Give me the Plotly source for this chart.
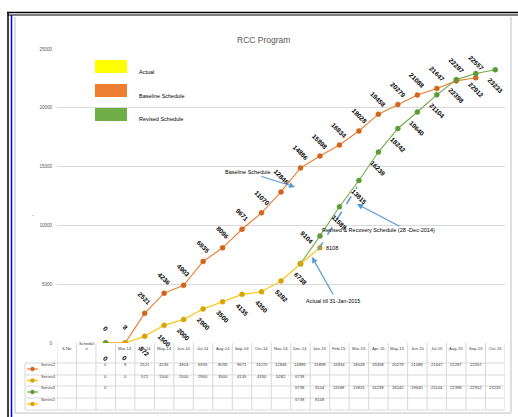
import plotly.graph_objects as go

categories = ["S.No", "Schedule", "", "Mar-14", "Apr-14", "May-14", "Jun-14", "Jul-14",
              "Aug-14", "Sep-14", "Oct-14", "Nov-14", "Dec-14", "Jan-15", "Feb-15",
              "Mar-15", "Apr-15", "May-15", "Jun-15", "Jul-15", "Aug-15", "Sep-15", "Oct-15"]
header_labels = ["S.No", "Schedul<br>e", ""] + categories[3:]

series_names = ["Series2", "Series4", "Series5", "Series1"]
series2 = [None, None, 0, 8, 2521, 4236, 4903, 6935, 8096, 9671, 11070, 12846, 14886,
           15898, 16834, 18028, 19458, 20279, 21088, 21647, 22287, 22557, None]
series4 = [None, None, 0, 0, 572, 1500, 2000, 2900, 3500, 4135, 4350, 5282, 6738] + [None] * 10
series5 = [None, None, 0] + [None] * 9 + [6738, 9104, 11588, 13815, 16239, 18242, 19640,
                                         21104, 22398, 22912, 23233]
series1 = [None] * 12 + [6738, 8108] + [None] * 9

legend_labels = ["Actual", "Baseline Schedule", "Revised Schedule"]
note_texts = ["Baseline Schedule", "Revised & Recovery Schedule (28 -Dec-2014)",
              "Actual till 31-Jan-2015"]
title_text = "RCC Program"

y_ticks = [0, 5000, 10000, 15000, 20000, 25000]

# ---- styling / layout helpers (pixel -> paper) ----
W, H = 518, 417
L, R, T, B = 57, 13, 49, 74
PW, PH = W - L - R, H - T - B


def pxx(x):
    return (x - L) / PW


def pxy(y):
    return (T + PH - y) / PH


FONT = "Liberation Sans Narrow, Liberation Sans, Arial"
ORANGE, ORANGE_M = "#ED7D31", "#D0661E"
GOLD, GOLD_M = "#FFC000", "#D9A400"
GREEN, GREEN_M = "#70AD47", "#5B9A36"
BLUE = "#5B9BD5"
GRID = "#D9D9D9"

xs = list(range(len(categories)))
fig = go.Figure()

trace_specs = [
    (series2, ORANGE, ORANGE_M),
    (series4, GOLD, GOLD_M),
    (series5, GREEN, GREEN_M),
    (series1, GOLD, GOLD_M),
]
for (vals, lc, mc), name in zip(trace_specs, series_names):
    fig.add_trace(go.Scatter(
        x=xs, y=vals, name=name, mode="lines+markers",
        line=dict(color=lc, width=1.1),
        marker=dict(color=mc, size=5, line=dict(color=mc, width=0.5)),
        connectgaps=False, showlegend=False, hoverinfo="skip"))

annotations = []
shapes = []

lab_font = dict(family=FONT, size=6.5, color="black")
# data labels
for i, v in enumerate(series2):
    if v is not None:
        annotations.append(dict(x=i, y=v, xref="x", yref="y", text=f"<b>{v}</b>",
                                showarrow=False, textangle=45, yshift=15, font=lab_font))
for i, v in enumerate(series4):
    if v is not None:
        annotations.append(dict(x=i, y=v, xref="x", yref="y", text=f"<b>{v}</b>",
                                showarrow=False, textangle=45, yshift=-15, font=lab_font))
for i, v in enumerate(series5):
    if v is not None and i > 12:
        if i == 13:
            annotations.append(dict(x=i, y=v, xref="x", yref="y", text=f"<b>{v}</b>",
                                    showarrow=False, textangle=45, xshift=-13, yshift=-2,
                                    font=lab_font))
        else:
            annotations.append(dict(x=i, y=v, xref="x", yref="y", text=f"<b>{v}</b>",
                                    showarrow=False, textangle=45, yshift=-16, font=lab_font))
for i, v in enumerate(series1):
    if v is not None and i > 12:
        annotations.append(dict(x=i, y=v, xref="x", yref="y", text=str(v),
                                showarrow=False, xanchor="left", xshift=4,
                                font=dict(family=FONT, size=5.5, color="black")))

# ---- data table under the chart ----
row_lines = [363, 375, 386, 398, 410]
row_centers = [369, 380.5, 392, 404]
tab_font = dict(family=FONT, size=4.2, color="#404040")
for k in range(len(categories) + 1):
    shapes.append(dict(type="line", xref="x", yref="paper", x0=k - 0.5, x1=k - 0.5,
                       y0=pxy(343), y1=pxy(410), line=dict(color=GRID, width=1)))
shapes.append(dict(type="line", xref="paper", yref="paper", x0=pxx(25), x1=pxx(25),
                   y0=pxy(363), y1=pxy(410), line=dict(color=GRID, width=1)))
for yl in row_lines:
    shapes.append(dict(type="line", xref="paper", yref="paper", x0=pxx(25), x1=1,
                       y0=pxy(yl), y1=pxy(yl), line=dict(color=GRID, width=1)))
for i, lab in enumerate(header_labels):
    if lab:
        annotations.append(dict(x=i, y=pxy(353), xref="x", yref="paper", text=lab,
                                showarrow=False, font=tab_font))
for r, vals in enumerate([series2, series4, series5, series1]):
    for i, v in enumerate(vals):
        if v is not None:
            annotations.append(dict(x=i, y=pxy(row_centers[r]), xref="x", yref="paper",
                                    text=str(v), showarrow=False, font=tab_font))
key_colors = [(ORANGE, ORANGE_M), (GOLD, GOLD_M), (GREEN, GREEN_M), (GOLD, GOLD_M)]
for r, name in enumerate(series_names):
    yc = pxy(row_centers[r])
    lc, mc = key_colors[r]
    shapes.append(dict(type="line", xref="paper", yref="paper", x0=pxx(27), x1=pxx(38),
                       y0=yc, y1=yc, line=dict(color=lc, width=1.2)))
    shapes.append(dict(type="circle", xref="paper", yref="paper",
                       x0=pxx(30.5), x1=pxx(34.5), y0=yc - 2 / PH, y1=yc + 2 / PH,
                       fillcolor=mc, line=dict(color=mc, width=0.5)))
    annotations.append(dict(x=pxx(39), y=yc, xref="paper", yref="paper", text=name,
                            xanchor="left", showarrow=False, font=tab_font))

# ---- custom legend ----
leg_colors = ["#FFFF00", "#ED7D31", "#70AD47"]
leg_y = [(60, 73), (84, 97), (108, 121)]
for (y0, y1), c, lab in zip(leg_y, leg_colors, legend_labels):
    shapes.append(dict(type="rect", xref="paper", yref="paper", x0=pxx(95), x1=pxx(127),
                       y0=pxy(y1), y1=pxy(y0), fillcolor=c, line=dict(width=0)))
    annotations.append(dict(x=pxx(137), y=pxy((y0 + y1) / 2), xref="paper", yref="paper",
                            text=lab, xanchor="left", showarrow=False,
                            font=dict(family=FONT, size=5.5, color="black")))

# ---- title ----
annotations.append(dict(x=pxx(263), y=pxy(33), xref="paper", yref="paper", text=title_text,
                        showarrow=False, font=dict(family=FONT, size=8.5, color="#595959")))
annotations.append(dict(x=pxx(30), y=pxy(215), xref="paper", yref="paper", text="-",
                        showarrow=False, font=dict(family=FONT, size=5, color="#595959")))

# ---- notes and arrows ----
note_font = dict(family=FONT, size=5.5, color="black")
annotations.append(dict(x=pxx(248), y=pxy(172), xref="paper", yref="paper",
                        text=note_texts[0], showarrow=False, font=note_font))
annotations.append(dict(x=pxx(437), y=pxy(230), xref="paper", yref="paper",
                        text=note_texts[1], showarrow=False, font=note_font))
annotations.append(dict(x=pxx(333), y=pxy(306), xref="paper", yref="paper",
                        text=note_texts[2], showarrow=False, font=note_font))
arrows = [((260, 176), (295, 187)), ((401, 227), (357, 204)), ((334, 296), (312, 257))]
for (tx, ty), (hx, hy) in arrows:
    annotations.append(dict(x=pxx(hx), y=pxy(hy), xref="paper", yref="paper", text="",
                            showarrow=True, arrowhead=2, arrowsize=1, arrowwidth=1.2,
                            arrowcolor=BLUE, ax=tx - hx, ay=ty - hy, standoff=0))
shapes.append(dict(type="line", xref="paper", yref="paper", x0=pxx(318), y0=pxy(250),
                   x1=pxx(357), y1=pxy(187), line=dict(color=BLUE, width=1.6, dash="dash")))

# ---- frame ----
frame = [
    dict(x0=7, y0=12.5, x1=518, y1=12.5, c="black", w=1.5),
    dict(x0=8, y0=15, x1=518, y1=15, c="black", w=1),
    dict(x0=8, y0=12, x1=8, y1=417, c="black", w=1.5),
    dict(x0=11.5, y0=15, x1=11.5, y1=417, c="#0000EE", w=1.5),
    dict(x0=15, y0=17, x1=15, y1=413, c="#BFBFBF", w=1),
    dict(x0=15, y0=413, x1=511, y1=413, c="#BFBFBF", w=1),
    dict(x0=511, y0=17, x1=511, y1=413, c="#BFBFBF", w=1),
]
for f in frame:
    shapes.append(dict(type="line", xref="paper", yref="paper", x0=pxx(f["x0"]),
                       x1=pxx(f["x1"]), y0=pxy(f["y0"]), y1=pxy(f["y1"]),
                       line=dict(color=f["c"], width=f["w"])))

fig.update_layout(
    width=W, height=H,
    margin=dict(l=L, r=R, t=T, b=B),
    paper_bgcolor="white", plot_bgcolor="white",
    showlegend=False,
    xaxis=dict(range=[-0.5, len(categories) - 0.5], showticklabels=False, showgrid=False,
               zeroline=False, showline=False, fixedrange=True),
    yaxis=dict(range=[0, 25000], tickvals=y_ticks, tickformat="d", showgrid=True,
               gridcolor=GRID, gridwidth=1, zeroline=False, showline=False,
               tickfont=dict(family=FONT, size=4.5, color="#595959"), ticklabelstandoff=4),
    annotations=annotations,
    shapes=shapes,
)

fig.write_html("out.html")
